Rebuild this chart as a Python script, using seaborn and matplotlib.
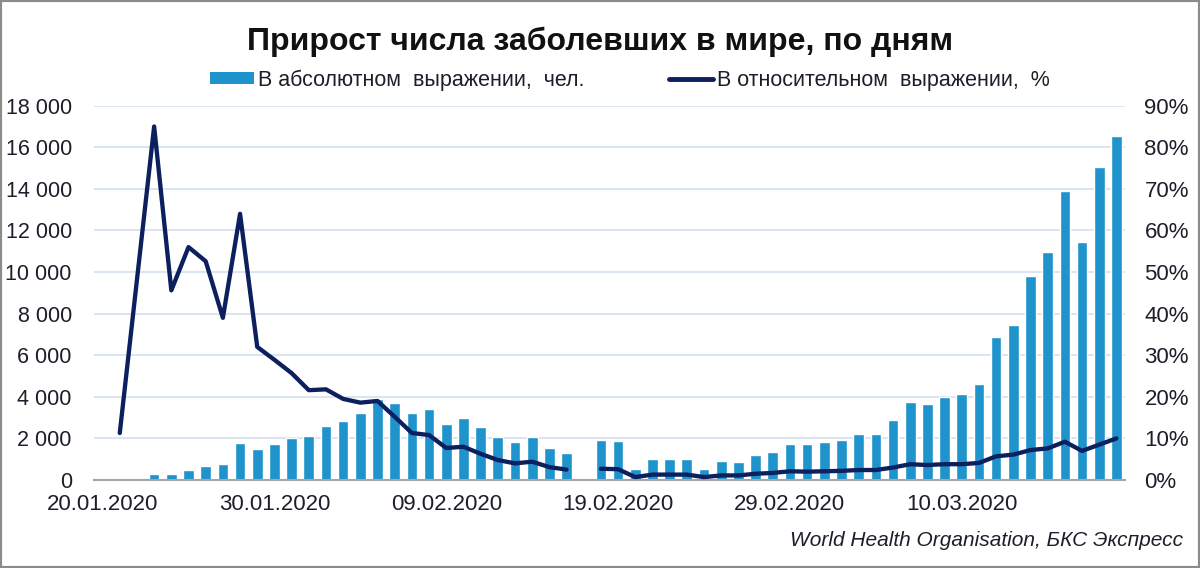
import pandas as pd
import numpy as np
import seaborn as sns
import matplotlib.pyplot as plt
from matplotlib.patches import Patch, Rectangle
from matplotlib.lines import Line2D

# daily data (22.01 not in the source table, 17.02 left blank)
start = pd.Timestamp("2020-01-20")
dates = pd.date_range("2020-01-21", "2020-03-19").drop(pd.Timestamp("2020-01-22"))

abs_growth = [100, 267, 265, 474, 694, 784, 1795, 1472, 1753, 2008,
              2127, 2604, 2834, 3239, 3880, 3720, 3205, 3405, 2672, 2996,
              2549, 2068, 1826, 2056, 1527, 1277, np.nan, 1903, 1872, 544,
              1021, 1025, 1017, 520, 908, 870, 1185, 1358, 1751, 1734,
              1806, 1922, 2223, 2234, 2868, 3735, 3659, 3991, 4125, 4617,
              6900, 7450, 9790, 10950, 13900, 11450, 15050, 16550]
rel_growth = [11.3, 85.0, 45.6, 56.0, 52.6, 39.0, 64.0, 32.0, 28.9, 25.7,
              21.6, 21.8, 19.5, 18.6, 19.0, 15.2, 11.3, 10.8, 7.7, 8.0,
              6.3, 4.8, 4.0, 4.4, 3.1, 2.5, np.nan, 2.7, 2.6, 0.7,
              1.3, 1.3, 1.3, 0.7, 1.1, 1.1, 1.5, 1.7, 2.1, 2.0,
              2.1, 2.2, 2.4, 2.4, 3.0, 3.8, 3.6, 3.8, 3.8, 4.1,
              5.7, 6.1, 7.2, 7.6, 9.2, 7.0, 8.5, 10.0]
tick_dates = ["20.01.2020", "30.01.2020", "09.02.2020", "19.02.2020", "29.02.2020", "10.03.2020"]

title = "Прирост числа заболевших в мире, по дням"
label_abs = "В абсолютном  выражении,  чел."
label_rel = "В относительном  выражении,  %"
source = "World Health Organisation, БКС Экспресс"

BAR = "#1F93CC"
LINE = "#0C1F5E"
GRID = "#D8E3EF"
TXT = "#1E1E2A"

df = pd.DataFrame({"date": dates, "abs": abs_growth, "rel": rel_growth})
df["day"] = (df["date"] - start).dt.days
df["seg"] = df["abs"].isna().cumsum()

sns.set_style("white")
plt.rcParams["font.family"] = ["Liberation Sans", "DejaVu Sans"]
narrow = ["Liberation Sans Narrow", "Liberation Sans", "DejaVu Sans"]

fig = plt.figure(figsize=(12, 5.68), dpi=100)
ax = fig.add_axes([94 / 1200, 1 - 480 / 568, (1125 - 94) / 1200, (480 - 105.7) / 568])

sns.barplot(data=df.dropna(), x="day", y="abs", native_scale=True, width=0.62,
            color=BAR, saturation=1, errorbar=None, ax=ax)

ax2 = ax.twinx()
sns.lineplot(data=df.dropna(), x="day", y="rel", units="seg", estimator=None,
             color=LINE, lw=3.1, ax=ax2, legend=False)

ax.set_xlim(-0.5, 59.5)
ax.set_ylim(0, 18000)
ax2.set_ylim(0, 90)
ax.set_yticks(np.arange(0, 18001, 2000))
ax.set_yticklabels([f"{v:,}".replace(",", " ") for v in range(0, 18001, 2000)])
ax2.set_yticks(np.arange(0, 91, 10))
ax2.set_yticklabels([f"{v}%" for v in range(0, 91, 10)])
tick_pos = [(pd.to_datetime(t, dayfirst=True) - start).days for t in tick_dates]
ax.set_xticks(tick_pos)
ax.set_xticklabels(tick_dates)
ax.set_xlabel("")
ax.set_ylabel("")
ax2.set_ylabel("")

ax.grid(axis="y", color=GRID, lw=1.3)
ax.grid(axis="x", visible=False)
ax.set_axisbelow(True)
for s in ["top", "left", "right"]:
    ax.spines[s].set_visible(False)
for s in ax2.spines.values():
    s.set_visible(False)
ax.spines["bottom"].set_color("#A6A6A6")
ax.spines["bottom"].set_linewidth(1.5)

ax.tick_params(axis="y", length=0, pad=16, labelsize=15.5, labelcolor=TXT)
ax.tick_params(axis="x", length=0, pad=10, labelsize=16, labelcolor=TXT)
ax2.tick_params(axis="y", length=0, pad=14, labelsize=16, labelcolor=TXT)

fig.text(0.5, 1 - 50 / 568, title, ha="center", va="baseline", fontsize=23,
         fontweight="bold", family=narrow, color="#111111")

handles = [Patch(facecolor=BAR, edgecolor="none"), Line2D([], [], color=LINE, lw=3.5)]
fig.legend(handles, [label_abs, label_rel], loc="center", bbox_to_anchor=(0.525, 1 - 80 / 568),
           ncol=2, frameon=False, handlelength=2.05, handleheight=0.5, handletextpad=0.2,
           columnspacing=3.9, prop={"family": narrow, "size": 15.5}, labelcolor=TXT)

fig.text(1183 / 1200, 1 - 540 / 568, source, ha="right", va="center", fontsize=15,
         style="italic", color=TXT)

fig.add_artist(Rectangle((0, 0), 1, 1, transform=fig.transFigure, fill=False,
                         edgecolor="#8C8C8C", lw=3))

fig.savefig("out.png", dpi=100)
